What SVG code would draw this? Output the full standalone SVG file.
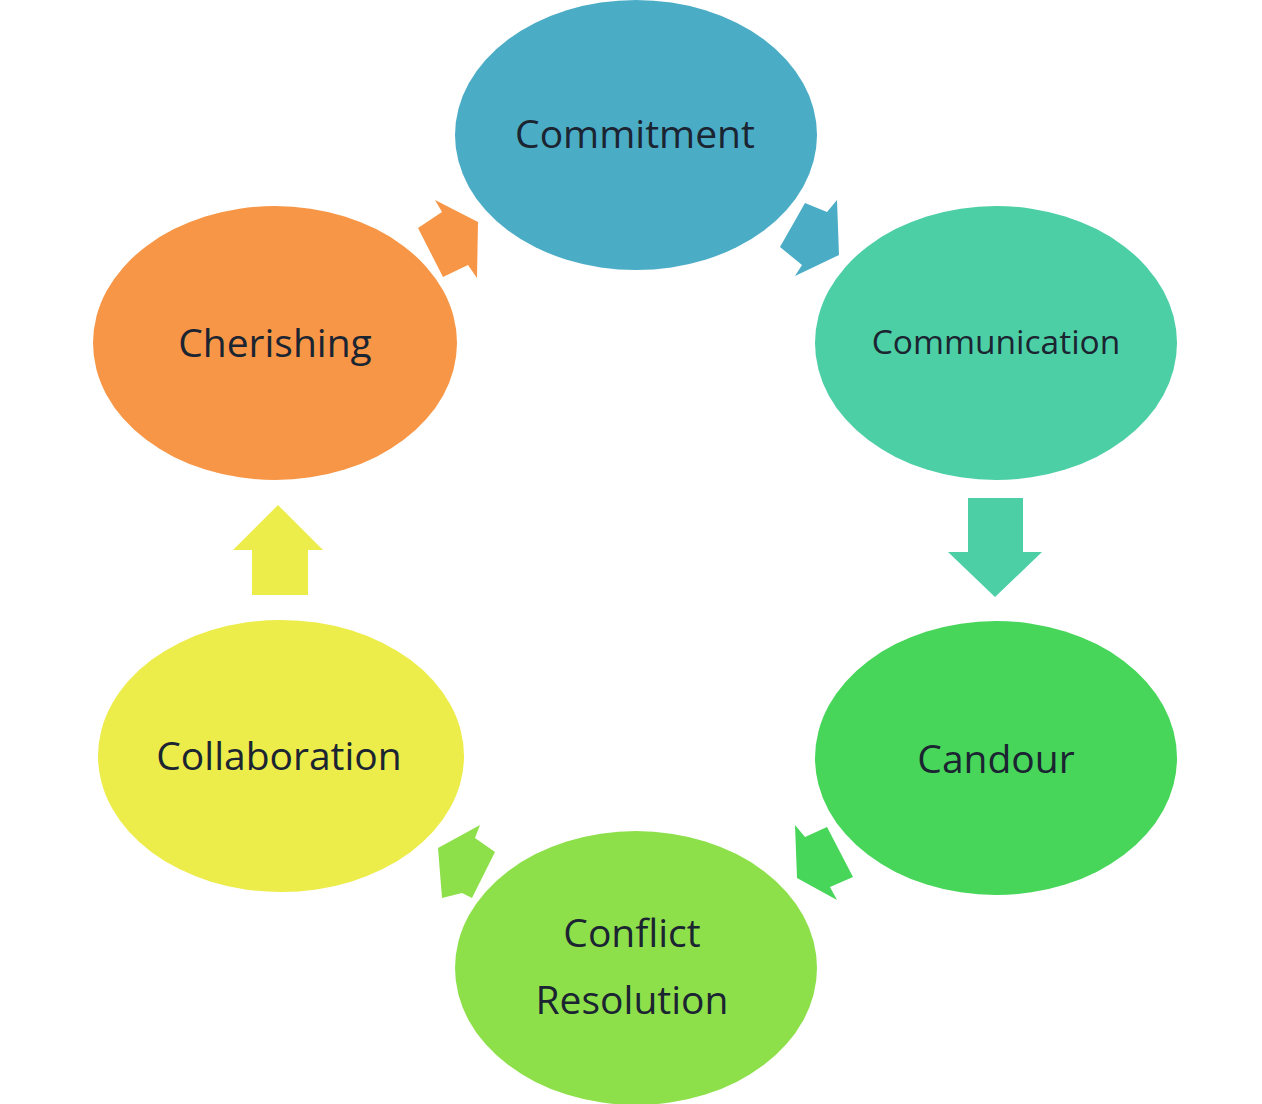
<svg xmlns="http://www.w3.org/2000/svg" width="1262" height="1104" viewBox="0 0 1262 1104">
<style>
.lbl{font-family:"Open Sans","Noto Sans",sans-serif;font-size:39px;fill:#1b2431;text-anchor:middle;dominant-baseline:central}
.sm{font-size:33.5px}
</style>
<rect width="1262" height="1104" fill="#ffffff"/>
<g id="connectors">
<polygon fill="#f79646" points="418,228 442,212 435,200 478,222 477,278 468,265 443,277"/>
<polygon fill="#4bacc6" points="780,247 805,203 827,212 837,200 839,255 795,276 802,265"/>
<polygon fill="#4ccfa5" points="968,498 1023,498 1023,552 1042,552 995,597 948,552 968,552"/>
<polygon fill="#47d65a" points="795,825 805,837 827,827 853,877 830,887 837,900 797,878"/>
<polygon fill="#8ee04b" points="480,825 475,838 495,852 472,898 462,893 442,898 438,848"/>
<polygon fill="#ecec4a" points="252,595 308,595 308,550 323,550 278,505 233,550 252,550"/>
</g>
<g id="commitment">
<ellipse cx="636" cy="135" rx="181" ry="135" fill="#4bacc6"/>
<text class="lbl" x="635" y="132">Commitment</text>
</g>
<g id="communication">
<ellipse cx="996" cy="343" rx="181" ry="137" fill="#4ccfa5"/>
<text class="lbl sm" x="996" y="341">Communication</text>
</g>
<g id="candour">
<ellipse cx="996" cy="758" rx="181" ry="137" fill="#47d65a"/>
<text class="lbl" x="996" y="757">Candour</text>
</g>
<g id="conflict-resolution">
<ellipse cx="636" cy="968" rx="181" ry="137" fill="#8ee04b"/>
<text class="lbl" x="632" y="931">Conflict</text>
<text class="lbl" x="632" y="998">Resolution</text>
</g>
<g id="collaboration">
<ellipse cx="281" cy="756" rx="183" ry="136" fill="#ecec4a"/>
<text class="lbl" x="279" y="754">Collaboration</text>
</g>
<g id="cherishing">
<ellipse cx="275" cy="343" rx="182" ry="137" fill="#f79646"/>
<text class="lbl" x="275" y="341">Cherishing</text>
</g>
</svg>
